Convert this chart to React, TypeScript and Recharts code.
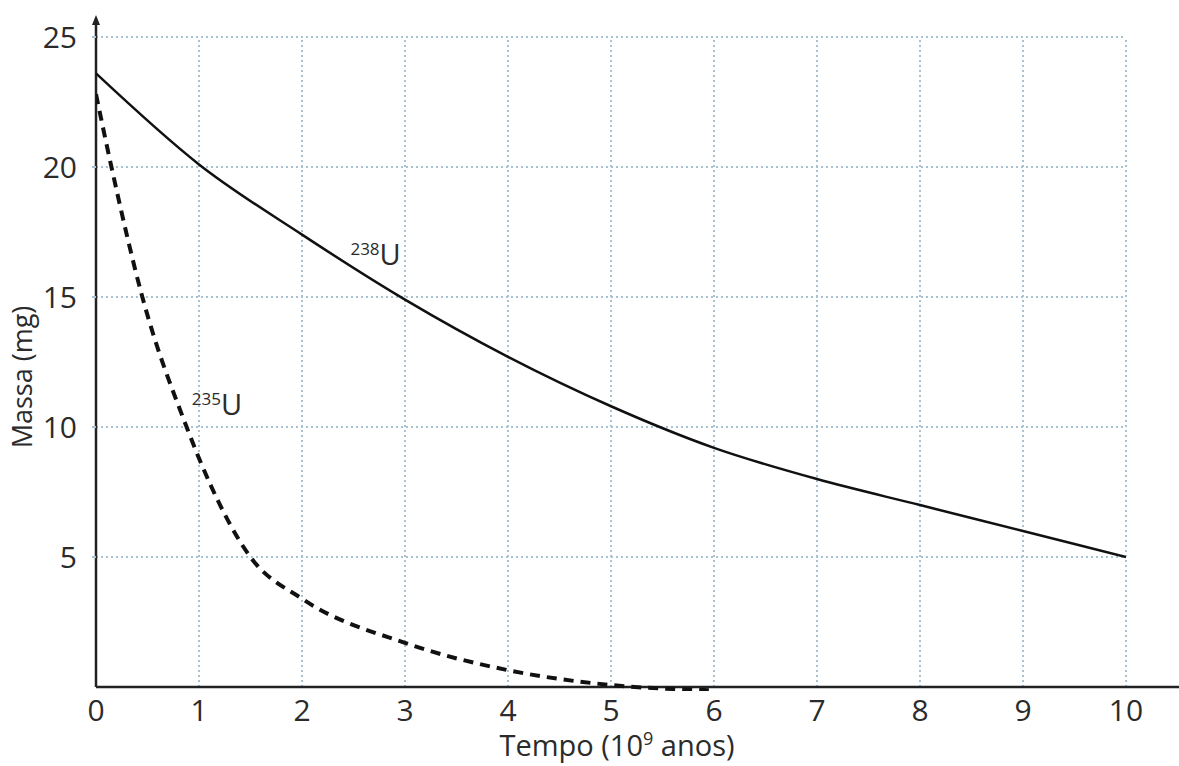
import { LineChart, Line, XAxis, YAxis, CartesianGrid, ReferenceLine, ReferenceDot, Label } from 'recharts';

// Tempo (10^9 anos) e massa (mg)
const tempo238 = [0, 1, 2, 3, 4, 5, 6, 7, 8, 9, 10];
const massa238 = [23.6, 20.1, 17.4, 14.9, 12.7, 10.8, 9.2, 8.0, 7.0, 6.0, 5.0];

const tempo235 = [0, 0.15, 0.45, 0.88, 1, 1.5, 2, 3, 4, 5, 5.95];
const massa235 = [22.8, 20, 15, 10, 8.8, 5, 3.4, 1.7, 0.65, 0.08, -0.12];

const xTicks = [0, 1, 2, 3, 4, 5, 6, 7, 8, 9, 10];
const yTicks = [5, 10, 15, 20, 25];

const serie238 = tempo238.map((t, i) => ({ t, m: massa238[i] }));
const serie235 = tempo235.map((t, i) => ({ t, m: massa235[i] }));

const FONT = '"Open Sans", "Noto Sans", sans-serif';
const TEXT = '#2b2b2b';
const GRID = '#a9c2d2';

function IsotopeLabel({ cx, cy, mass }: any) {
  return (
    <text x={cx} y={cy} fill={TEXT} fontFamily={FONT}>
      <tspan fontSize={17} dy={-10}>{mass}</tspan>
      <tspan fontSize={29} dy={10}>U</tspan>
    </text>
  );
}

function Arrow({ cx, cy }: any) {
  return <path d={`M${cx - 4},${cy + 10} L${cx},${cy} L${cx + 4},${cy + 10} Z`} fill="#222" />;
}

export default function App() {
  return (
    <div style={{ position: 'absolute', left: 0, top: 0, background: '#fff' }}>
      <LineChart width={1179} height={766} margin={{ top: 37, right: 53, left: 0, bottom: 0 }}>
        <CartesianGrid stroke={GRID} strokeWidth={2} strokeDasharray="2 3" vertical={false} horizontalValues={yTicks} />
        {xTicks.slice(1).map((x) => (
          <ReferenceLine
            key={x}
            segment={[{ x, y: 0 }, { x, y: 25 }]}
            stroke={GRID}
            strokeWidth={2}
            strokeDasharray="2 3"
          />
        ))}
        <XAxis
          dataKey="t"
          type="number"
          domain={[0, 10]}
          ticks={xTicks}
          allowDataOverflow
          axisLine={false}
          tickLine={false}
          tickMargin={3}
          height={75}
          tick={{ fill: TEXT, fontSize: 30, fontFamily: FONT }}
        >
          <Label
            content={({ viewBox }: any) => (
              <text x={viewBox.x + viewBox.width / 2 + 6} y={viewBox.y + 65} textAnchor="middle" fill={TEXT} fontFamily={FONT} fontSize={29}>
                Tempo (10<tspan fontSize={18} dy={-11}>9</tspan>
                <tspan dy={11}> anos)</tspan>
              </text>
            )}
          />
        </XAxis>
        <YAxis
          type="number"
          domain={[-0.15, 25]}
          ticks={yTicks}
          allowDataOverflow
          axisLine={false}
          tickLine={{ stroke: GRID, strokeWidth: 2 }}
          tickSize={4}
          tickMargin={15}
          width={96}
          tick={{ fill: TEXT, fontSize: 30, fontFamily: FONT }}
        >
          <Label
            content={({ viewBox }: any) => {
              const x = viewBox.x + 32;
              const y = viewBox.y + viewBox.height / 2 + 13;
              return (
                <text x={x} y={y} transform={`rotate(-90, ${x}, ${y})`} textAnchor="middle" fill={TEXT} fontFamily={FONT} fontSize={27}>
                  Massa (mg)
                </text>
              );
            }}
          />
        </YAxis>
        <ReferenceLine segment={[{ x: 0, y: 0 }, { x: 10.52, y: 0 }]} stroke="#222" strokeWidth={2.5} ifOverflow="visible" />
        <ReferenceLine segment={[{ x: 0, y: 0 }, { x: 0, y: 25.6 }]} stroke="#222" strokeWidth={2.5} ifOverflow="visible" />
        <ReferenceDot x={0} y={25.85} ifOverflow="visible" shape={<Arrow />} />
        <Line data={serie238} dataKey="m" type="monotone" stroke="#111" strokeWidth={2.5} dot={false} isAnimationActive={false} />
        <Line data={serie235} dataKey="m" type="monotone" stroke="#111" strokeWidth={4} strokeDasharray="10 7" dot={false} isAnimationActive={false} />
        <ReferenceDot x={2.47} y={16.23} ifOverflow="visible" shape={<IsotopeLabel mass="238" />} />
        <ReferenceDot x={0.93} y={10.46} ifOverflow="visible" shape={<IsotopeLabel mass="235" />} />
      </LineChart>
    </div>
  );
}
